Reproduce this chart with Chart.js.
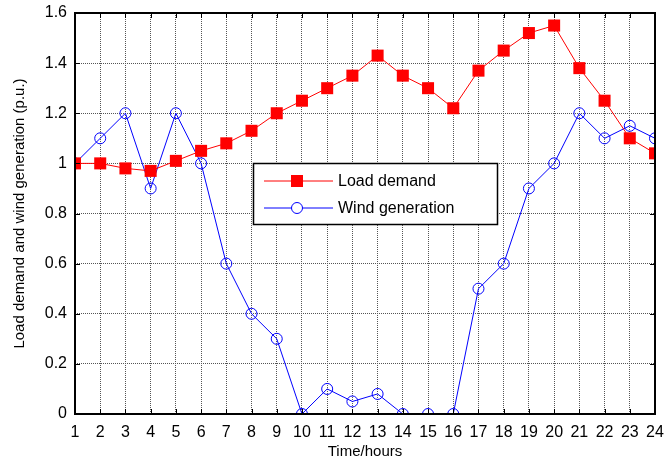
<!DOCTYPE html>
<html>
<head>
<meta charset="utf-8">
<script src="https://cdn.jsdelivr.net/npm/chart.js@4"></script>
<style>
  body { margin: 0; background: #fff; }
  #wrap { width: 670px; height: 465px; }
</style>
</head>
<body>
<div id="wrap"><canvas id="canvas_load"></canvas></div>
<script>
const hours = [1,2,3,4,5,6,7,8,9,10,11,12,13,14,15,16,17,18,19,20,21,22,23,24];
const loadDemand = [1.0,1.0,0.98,0.97,1.01,1.05,1.08,1.13,1.2,1.25,1.3,1.35,1.43,1.35,1.3,1.22,1.37,1.45,1.52,1.55,1.38,1.25,1.1,1.04];
const windGen = [1.0,1.1,1.2,0.9,1.2,1.0,0.6,0.4,0.3,0,0.1,0.05,0.08,0,0,0,0.5,0.6,0.9,1.0,1.2,1.1,1.15,1.1];
const yTicks = [0,0.2,0.4,0.6,0.8,1,1.2,1.4,1.6];

const font = 'Liberation Sans, Arial, sans-serif';

// box round the plot, inward tick marks, and the legend inside the plot
const matlabBox = {
  id: 'matlabBox',
  afterDraw(chart) {
    const {ctx, chartArea, scales} = chart;
    const a = chartArea;
    ctx.save();
    ctx.strokeStyle = '#000';
    ctx.lineWidth = 1;
    ctx.beginPath();
    hours.forEach(h => {
      const x = Math.round(scales.x.getPixelForValue(h)) + 0.5;
      ctx.moveTo(x, a.bottom); ctx.lineTo(x, a.bottom - 5);
      ctx.moveTo(x, a.top); ctx.lineTo(x, a.top + 5);
    });
    yTicks.forEach(v => {
      const y = Math.round(scales.y.getPixelForValue(v)) + 0.5;
      ctx.moveTo(a.left, y); ctx.lineTo(a.left + 5, y);
      ctx.moveTo(a.right, y); ctx.lineTo(a.right - 5, y);
    });
    ctx.stroke();
    ctx.lineWidth = 2;
    ctx.strokeRect(a.left, a.top, a.right - a.left, a.bottom - a.top);

    // legend
    const lx = 253, ly = 163, lw = 244, lh = 61;
    ctx.fillStyle = '#fff';
    ctx.fillRect(lx, ly, lw, lh);
    ctx.lineWidth = 1.5;
    ctx.strokeStyle = '#000';
    ctx.strokeRect(lx + 0.5, ly + 0.5, lw, lh);
    ctx.font = '16px ' + font;
    ctx.textBaseline = 'middle';
    chart.data.datasets.forEach((ds, i) => {
      const y = ly + 18 + i * 27;
      ctx.strokeStyle = ds.borderColor;
      ctx.lineWidth = 1;
      ctx.beginPath();
      ctx.moveTo(lx + 11, y); ctx.lineTo(lx + 80, y);
      ctx.stroke();
      ctx.fillStyle = ds.pointBackgroundColor;
      ctx.strokeStyle = ds.pointBorderColor;
      ctx.beginPath();
      if (ds.pointStyle === 'rect') {
        const s = ds.pointRadius * Math.SQRT1_2;
        ctx.rect(lx + 44 - s, y - s, 2 * s, 2 * s);
        ctx.fill();
      } else {
        ctx.fillStyle = '#fff';
        ctx.arc(lx + 44, y, ds.pointRadius, 0, Math.PI * 2);
        ctx.fill();
        ctx.stroke();
      }
      ctx.fillStyle = '#000';
      ctx.fillText(ds.label, lx + 85, y + 1);
    });
    ctx.restore();
  }
};

const config = {
  type: 'line',
  data: {
    datasets: [
      {
        label: 'Load demand',
        data: hours.map((h, i) => ({x: h, y: loadDemand[i]})),
        borderColor: '#ff0000',
        borderWidth: 1,
        pointStyle: 'rect',
        pointRadius: 8.5,
        pointBackgroundColor: '#ff0000',
        pointBorderColor: '#ff0000',
        pointBorderWidth: 0,
        tension: 0
      },
      {
        label: 'Wind generation',
        data: hours.map((h, i) => ({x: h, y: windGen[i]})),
        borderColor: '#0000ff',
        borderWidth: 1,
        pointStyle: 'circle',
        pointRadius: 5.5,
        pointBackgroundColor: 'rgba(0,0,0,0)',
        pointBorderColor: '#0000ff',
        pointBorderWidth: 1,
        tension: 0
      }
    ]
  },
  options: {
    animation: false,
    responsive: true,
    maintainAspectRatio: false,
    layout: { padding: { top: 13, right: 15, left: 0, bottom: 0 } },
    scales: {
      x: {
        type: 'linear',
        min: 1, max: 24,
        afterFit: s => { s.height = 51; s.paddingLeft = 0; s.paddingRight = 0; },
        afterBuildTicks: s => { s.ticks = hours.map(v => ({value: v})); },
        grid: { color: '#555', lineWidth: 1, drawTicks: false },
        border: { display: false, dash: [1, 1] },
        ticks: { color: '#000', font: { family: font, size: 16 }, padding: 9, maxRotation: 0, autoSkip: false },
        title: { display: true, text: 'Time/hours', color: '#000', font: { family: font, size: 15 }, padding: { top: 4 } }
      },
      y: {
        min: 0, max: 1.6,
        afterFit: s => { s.width = 75; s.paddingTop = 0; s.paddingBottom = 0; },
        afterBuildTicks: s => { s.ticks = yTicks.map(v => ({value: v})); },
        grid: { color: '#555', lineWidth: 1, drawTicks: false },
        border: { display: false, dash: [1, 1] },
        ticks: {
          color: '#000', font: { family: font, size: 16 }, padding: 8,
          callback: v => String(+v.toFixed(1))
        },
        title: { display: true, text: 'Load demand and wind generation (p.u.)', color: '#000', font: { family: font, size: 15 }, padding: { bottom: 0, top: 11 } }
      }
    },
    plugins: {
      legend: { display: false },
      tooltip: { enabled: false }
    }
  },
  plugins: [matlabBox]
};

window.chart = new Chart(document.getElementById('canvas_load'), config);
</script>
</body>
</html>
